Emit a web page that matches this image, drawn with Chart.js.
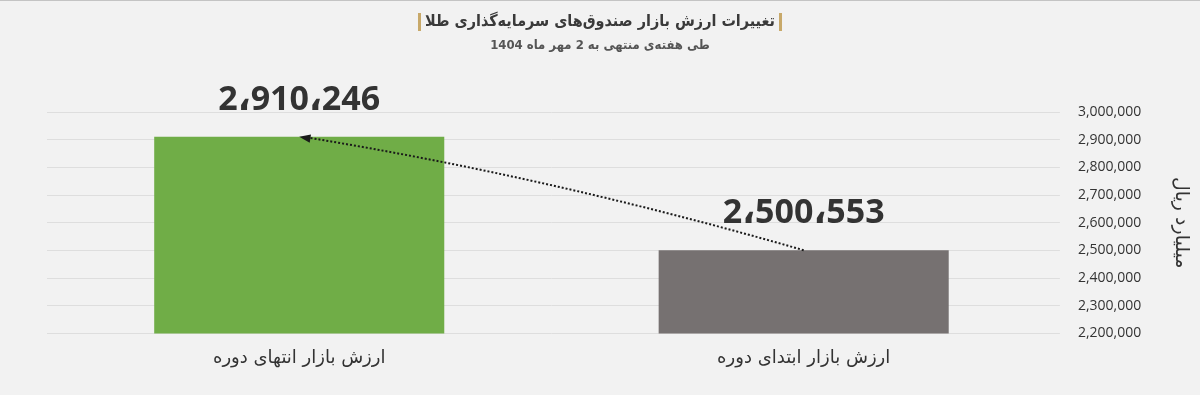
<!DOCTYPE html>
<html lang="fa">
<head>
<meta charset="utf-8">
<title>تغییرات ارزش بازار صندوق‌های سرمایه‌گذاری طلا</title>
<script src="https://cdn.jsdelivr.net/npm/chart.js@4"></script>
<style>
  html, body { margin: 0; padding: 0; background: #f2f2f2; }
  #wrap { position: relative; width: 1200px; height: 395px; }
</style>
</head>
<body>
<div id="wrap"><canvas id="fundChart" width="1200" height="395"></canvas></div>
<script>
// chart data
var categories = ['ارزش بازار انتهای دوره', 'ارزش بازار ابتدای دوره'];
var marketValues = [2910246, 2500553];
var barColors = ['#70ad47', '#767171'];
var titleText = 'تغییرات ارزش بازار صندوق‌های سرمایه‌گذاری طلا';
var subtitleText = 'طی هفته‌ی منتهی به 2 مهر ماه 1404';
var axisTitle = 'میلیارد ریال';
var yMin = 2200000, yMax = 3000000, yStep = 100000;

var faFont = "'DejaVu Sans', 'Noto Sans', sans-serif";
var faCond = "'DejaVu Sans Condensed', 'DejaVu Sans', sans-serif";
var numFont = "'Open Sans', 'DejaVu Sans', sans-serif";

function withArabicComma(n) {
  return n.toLocaleString('en-US').replace(/,/g, '،');
}

// background, header and top border
var headerPlugin = {
  id: 'header',
  beforeDraw: function (chart) {
    var ctx = chart.ctx;
    ctx.save();
    ctx.fillStyle = '#f2f2f2';
    ctx.fillRect(0, 0, chart.width, chart.height);
    ctx.fillStyle = '#c4c4c4';
    ctx.fillRect(0, 0, chart.width, 1);
    ctx.restore();
  },
  afterDraw: function (chart) {
    var ctx = chart.ctx;
    var cx = chart.width / 2;
    ctx.save();
    ctx.direction = 'rtl';
    ctx.textAlign = 'center';
    ctx.textBaseline = 'middle';
    ctx.font = 'bold 16px ' + faCond;
    ctx.fillStyle = '#3a3a3a';
    ctx.fillText(titleText, cx, 22);
    var w = ctx.measureText(titleText).width;
    ctx.fillStyle = '#c8a96a';
    ctx.fillRect(cx + w / 2 + 4, 13, 3, 18);
    ctx.fillRect(cx - w / 2 - 7, 13, 3, 18);
    ctx.font = 'bold 13px ' + faCond;
    ctx.fillStyle = '#555555';
    ctx.fillText(subtitleText, cx, 46);
    ctx.restore();
  }
};

// big value labels and the dotted arrow between bars
var labelPlugin = {
  id: 'valueLabels',
  afterDatasetsDraw: function (chart) {
    var ctx = chart.ctx;
    var meta = chart.getDatasetMeta(0);
    var yScale = chart.scales.y;
    ctx.save();

    // arrow from start value (2nd bar) to end value (1st bar)
    var from = meta.data[1], to = meta.data[0];
    var x0 = from.x, y0 = yScale.getPixelForValue(marketValues[1]);
    var x2 = to.x, y2 = yScale.getPixelForValue(marketValues[0]);
    var cpx = (x0 + x2) / 2, cpy = (y0 + y2) / 2 - 16;
    ctx.strokeStyle = '#1a1a1a';
    ctx.lineWidth = 2;
    ctx.setLineDash([2, 2]);
    ctx.beginPath();
    ctx.moveTo(x0, y0);
    ctx.quadraticCurveTo(cpx, cpy, x2 + 10, y2 + 1);
    ctx.stroke();
    ctx.setLineDash([]);
    var ang = Math.atan2(y2 - cpy, x2 - cpx);
    ctx.fillStyle = '#1a1a1a';
    ctx.beginPath();
    ctx.moveTo(x2, y2);
    ctx.lineTo(x2 - 12 * Math.cos(ang - 0.35), y2 - 12 * Math.sin(ang - 0.35));
    ctx.lineTo(x2 - 12 * Math.cos(ang + 0.35), y2 - 12 * Math.sin(ang + 0.35));
    ctx.closePath();
    ctx.fill();

    ctx.font = 'bold 34px ' + numFont;
    ctx.fillStyle = '#333333';
    ctx.textAlign = 'center';
    ctx.textBaseline = 'middle';
    meta.data.forEach(function (bar, i) {
      ctx.fillText(withArabicComma(marketValues[i]), bar.x, bar.y - 37);
    });
    ctx.restore();
  }
};

new Chart(document.getElementById('fundChart'), {
  type: 'bar',
  data: {
    labels: categories,
    datasets: [{
      data: marketValues,
      backgroundColor: barColors,
      barPercentage: 0.575,
      categoryPercentage: 1
    }]
  },
  options: {
    responsive: false,
    animation: false,
    layout: {
      padding: { top: 112, left: 47, right: 2, bottom: 20 }
    },
    plugins: {
      legend: { display: false },
      tooltip: { enabled: false }
    },
    scales: {
      x: {
        grid: { display: false },
        border: { display: false },
        ticks: {
          color: '#333333',
          padding: 6,
          font: { family: faFont, size: 18 }
        }
      },
      y: {
        position: 'right',
        min: yMin,
        max: yMax,
        border: { display: false },
        grid: { color: '#dedede', tickLength: 4 },
        ticks: {
          stepSize: yStep,
          padding: 18,
          color: '#333333',
          font: { family: numFont, size: 14 },
          callback: function (v) { return v.toLocaleString('en-US'); }
        },
        title: {
          display: true,
          text: axisTitle,
          color: '#333333',
          padding: { top: 6, bottom: 10 },
          font: { family: faFont, size: 19 }
        }
      }
    }
  },
  plugins: [headerPlugin, labelPlugin]
});
</script>
</body>
</html>
